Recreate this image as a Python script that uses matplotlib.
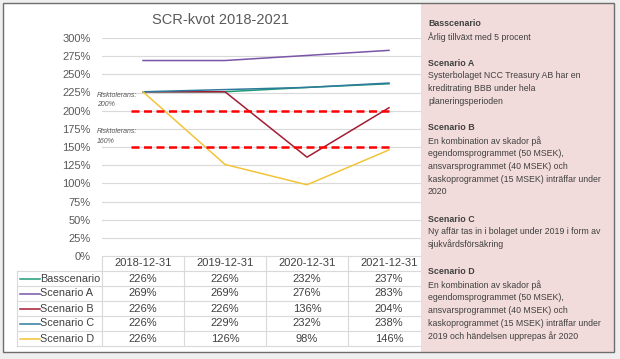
import matplotlib
matplotlib.use("Agg")
import matplotlib.pyplot as plt
import matplotlib.transforms as mtransforms
from matplotlib.patches import Rectangle
from matplotlib.lines import Line2D

plt.rcParams['font.family'] = ['Liberation Sans', 'DejaVu Sans']

# --- data ---
dates = ['2018-12-31', '2019-12-31', '2020-12-31', '2021-12-31']
scenarios = ['Basscenario', 'Scenario A', 'Scenario B', 'Scenario C', 'Scenario D']
bas = [226, 226, 232, 237]
scen_a = [269, 269, 276, 283]
scen_b = [226, 226, 136, 204]
scen_c = [226, 229, 232, 238]
scen_d = [226, 126, 98, 146]
series = [bas, scen_a, scen_b, scen_c, scen_d]
colors = ['#1f9a78', '#7a55a8', '#a31c32', '#2f7a9c', '#f2c437']
risk_levels = [200, 150]
risk_labels = ['Risktolerans:\n200%', 'Risktolerans:\n160%']
yticks = list(range(0, 301, 25))

panel_items = [
    ('Basscenario', ['Årlig tillväxt med 5 procent']),
    ('Scenario A', ['Systerbolaget NCC Treasury AB har en',
                    'kreditrating BBB under hela',
                    'planeringsperioden']),
    ('Scenario B', ['En kombination av skador på',
                    'egendomsprogrammet (50 MSEK),',
                    'ansvarsprogrammet (40 MSEK) och',
                    'kaskoprogrammet (15 MSEK) inträffar under',
                    '2020']),
    ('Scenario C', ['Ny affär tas in i bolaget under 2019 i form av',
                    'sjukvårdsförsäkring']),
    ('Scenario D', ['En kombination av skador på',
                    'egendomsprogrammet (50 MSEK),',
                    'ansvarsprogrammet (40 MSEK) och',
                    'kaskoprogrammet (15 MSEK) inträffar under',
                    '2019 och händelsen upprepas år 2020']),
]

W, H = 620, 359
fig = plt.figure(figsize=(W / 100, H / 100), dpi=100, facecolor='#efefef')


def fx(px):
    return px / W


def fy(py):
    return 1 - py / H


# outer frame (white fill below, edge drawn on top later)
fig.patches.append(Rectangle((fx(3), fy(352)), fx(611), 349 / H, transform=fig.transFigure,
                             facecolor='white', edgecolor='none', zorder=-1))

ax = fig.add_axes([fx(102), fy(256), 328 / W, (256 - 38) / H])
ax.set_facecolor('none')
x = list(range(len(dates)))
ax.set_xlim(-0.5, 3.5)
ax.set_ylim(0, 300)
for s in ax.spines.values():
    s.set_visible(False)
ax.set_yticks(yticks)
ax.set_yticklabels([f'{t}%' for t in yticks], fontsize=8, color='#595959')
ax.set_xticks([])
ax.tick_params(axis='y', length=0, pad=8)
for t in yticks[1:]:
    ax.axhline(t, color='#d9d9d9', lw=0.8, zorder=0)

for vals, col in zip(series, colors):
    ax.plot(x, vals, color=col, lw=1.1, zorder=3)

for lvl, lab in zip(risk_levels, risk_labels):
    ax.hlines(lvl, -0.15, 3.0, colors='#ff0000', lw=1.8, linestyles=(0, (3.2, 1.8)), zorder=4)
    ax.text(-0.56, lvl + 26, lab, fontsize=5, style='italic', color='#595959',
            va='top', ha='left', linespacing=1.5, clip_on=False)

fig.text(fx(220), fy(20), 'SCR-kvot 2018-2021', ha='center', va='center',
         fontsize=10.5, color='#595959')

# --- data table under the plot ---
tr = mtransforms.blended_transform_factory(ax.transData, fig.transFigure)
grid_col = '#d9d9d9'
row_top = 256
row_h = 15
n_rows = len(scenarios)
bottom = row_top + row_h * (n_rows + 1)
ax.add_line(Line2D([-0.5, 3.5], [fy(row_top)] * 2, transform=tr, color=grid_col, lw=0.8, clip_on=False))
for r in range(1, n_rows + 2):
    yy = fy(row_top + r * row_h)
    ax.add_line(Line2D([fx(17), fx(430)], [yy, yy], transform=fig.transFigure,
                       color=grid_col, lw=0.8, clip_on=False))
for c in [-0.5, 0.5, 1.5, 2.5, 3.5]:
    ax.add_line(Line2D([c, c], [fy(row_top), fy(bottom)], transform=tr, color=grid_col,
                       lw=0.8, clip_on=False))
ax.add_line(Line2D([fx(17), fx(17)], [fy(row_top + row_h), fy(bottom)], transform=fig.transFigure,
                   color=grid_col, lw=0.8, clip_on=False))

for i, d in enumerate(dates):
    ax.text(i, fy(row_top + row_h / 2), d, transform=tr, ha='center', va='center',
            fontsize=8, color='#404040', clip_on=False)
for r, (name, vals, col) in enumerate(zip(scenarios, series, colors)):
    yc = fy(row_top + row_h * (r + 1.5))
    for i, v in enumerate(vals):
        ax.text(i, yc, f'{v}%', transform=tr, ha='center', va='center',
                fontsize=8, color='#404040', clip_on=False)
    ax.add_line(Line2D([fx(20), fx(40)], [yc, yc], transform=fig.transFigure,
                       color=col, lw=1.1, clip_on=False))
    ax.text(fx(40), yc, name, transform=fig.transFigure, ha='left', va='center',
            fontsize=7.8, color='#404040', clip_on=False)

# --- pink description panel ---
fig.patches.append(Rectangle((fx(421), fy(352)), fx(614 - 421), 349 / H, transform=fig.transFigure,
                             facecolor='#f2dcdb', edgecolor='none', zorder=5))
fig.patches.append(Rectangle((fx(3), fy(352)), fx(611), 349 / H, transform=fig.transFigure,
                             facecolor='none', edgecolor='#6e6e6e', lw=1, zorder=7))
heading_y = [24, 63, 128, 219, 272]
for (head, lines), y0 in zip(panel_items, heading_y):
    fig.text(fx(428), fy(y0), head, fontsize=6.4, fontweight='bold', color='#404040',
             va='center', ha='left', zorder=6)
    for k, ln in enumerate(lines):
        fig.text(fx(428), fy(y0 + 12.8 * (k + 1)), ln, fontsize=6.3, color='#404040',
                 va='center', ha='left', zorder=6)

fig.savefig('out.png', dpi=100, facecolor=fig.get_facecolor())
